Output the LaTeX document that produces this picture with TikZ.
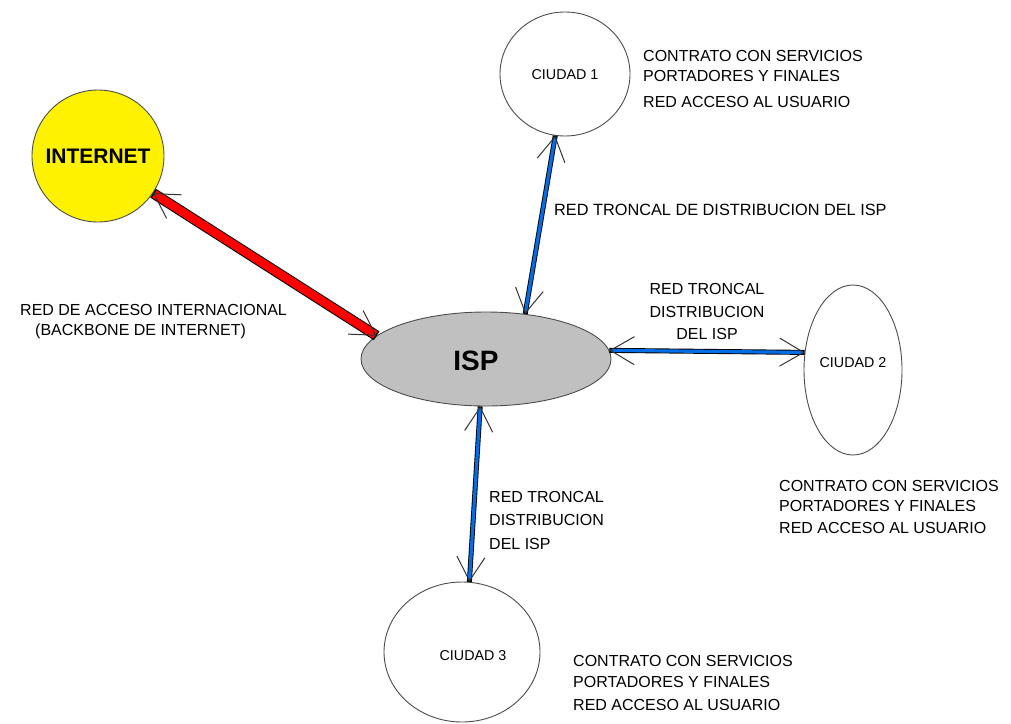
\documentclass[tikz,border=0pt]{standalone}
\usepackage{fontspec}
\setmainfont{Liberation Sans}
\usetikzlibrary{shapes.geometric, arrows.meta}

\definecolor{redlink}{RGB}{255,0,0}
\definecolor{bluelink}{RGB}{0,110,230}
\definecolor{ispgray}{RGB}{192,192,192}

\begin{document}
\begin{tikzpicture}[x=1pt, y=-1pt,
        barb/.tip={Straight Barb[length=24pt, width=28pt, line width=1pt 0, color=black!80]},
        city/.style={ellipse, draw=black!70, line width=0.9pt, fill=white, inner sep=0pt},
        citytext/.style={inner sep=0pt, font=\fontsize{14.3}{16}\selectfont},
        note/.style={anchor=north west, inner sep=0pt, align=left},
        redline/.style={{barb}-{barb}, draw=redlink, line width=8.5pt,
            preaction={draw=black, line width=10.5pt, -}},
        blueline/.style={{barb}-{barb}, draw=bluelink, line width=3.2pt,
            preaction={draw=black, line width=5pt, -}}
    ]
    \useasboundingbox (0,0) rectangle (1011,723);

        \node[circle, draw=black!70, line width=0.9pt, fill=yellow, minimum size=132pt, inner sep=0pt,
            font=\bfseries\fontsize{21}{24}\selectfont]
            (internet) at (98,156) {INTERNET};
        \node[ellipse, draw=black!70, line width=0.9pt, fill=ispgray, inner sep=0pt,
            minimum width=250pt, minimum height=94pt]
            (isp) at (486,359) {};
        \node[inner sep=0pt, font=\bfseries\fontsize{28}{30}\selectfont]
            (isptext) at (476,361) {ISP};

        \node[city, minimum width=130pt, minimum height=124pt] (ciudad1) at (565,74) {};
        \node[citytext] (ciudad1text) at (565,75) {CIUDAD 1};
        \node[city, minimum width=98pt, minimum height=170pt] (ciudad2) at (853,370) {};
        \node[citytext] (ciudad2text) at (853,363) {CIUDAD 2};
        \node[city, minimum width=156pt, minimum height=140pt] (ciudad3) at (462,652) {};
        \node[citytext] (ciudad3text) at (473,656) {CIUDAD 3};

        \draw[redline] (internet.-34) -- (isp.168);
        \draw[blueline] (ciudad1.-99) -- (isp.49);
        \draw[blueline] (isp.4) -- (ciudad2.160);
        \draw[blueline] (isp.-97) -- (ciudad3.84);

        % textos
        \node[note, font=\fontsize{16}{20}\selectfont] (contrato1) at (643,50)
            {CONTRATO CON SERVICIOS\\PORTADORES Y FINALES\\[6pt]RED ACCESO AL USUARIO};
        \node[note, font=\fontsize{16}{20}\selectfont] (contrato2) at (779,480)
            {CONTRATO CON SERVICIOS\\PORTADORES Y FINALES\\[2pt]RED ACCESO AL USUARIO};
        \node[note, font=\fontsize{16}{21.5}\selectfont] (contrato3) at (573,655)
            {CONTRATO CON SERVICIOS\\PORTADORES Y FINALES\\[1.5pt]RED ACCESO AL USUARIO};
        \node[note, font=\fontsize{16}{20.5}\selectfont] (acceso) at (20,304)
            {RED DE ACCESO INTERNACIONAL\\\hspace*{15pt}(BACKBONE DE INTERNET)};
        \node[note, font=\fontsize{16.3}{20}\selectfont] (troncal1) at (554,204)
            {RED TRONCAL DE DISTRIBUCION DEL ISP};
        \node[note, anchor=north, align=center, font=\fontsize{16}{22.75}\selectfont] (troncal2) at (707,283)
            {RED TRONCAL\\DISTRIBUCION\\DEL ISP};
        \node[note, font=\fontsize{16}{23.5}\selectfont] (troncal3) at (489,491)
            {RED TRONCAL\\DISTRIBUCION\\DEL ISP};
\end{tikzpicture}
\end{document}
